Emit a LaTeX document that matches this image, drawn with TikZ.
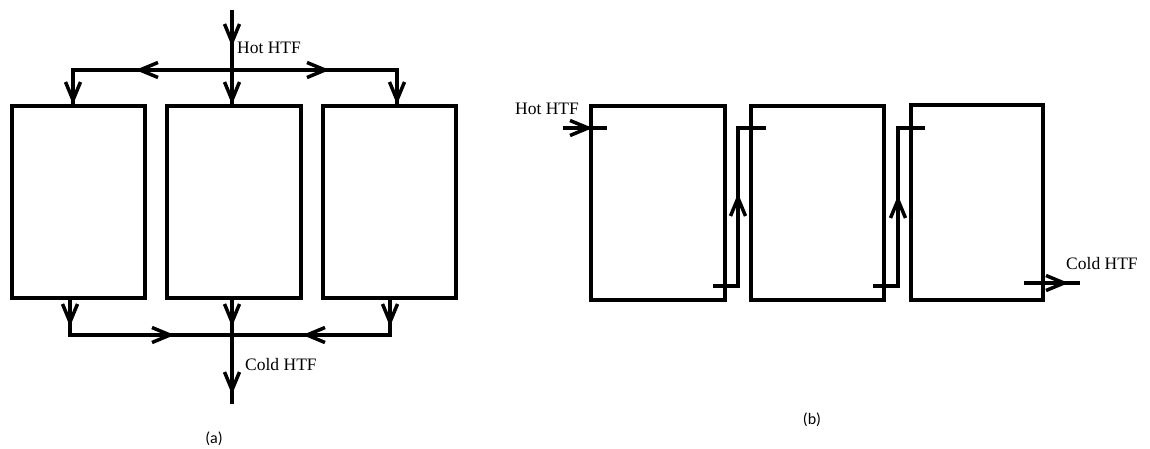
\documentclass[tikz,border=0pt]{standalone}
\usepackage{fontspec}
\setmainfont{Liberation Serif}
\newfontfamily\capfont{Carlito}
\usetikzlibrary{decorations.markings}
\tikzset{
  tank/.style={draw, line width=3.5pt, minimum width=131pt, minimum height=190pt, inner sep=0pt, outer sep=0pt},
  pipe/.style={line width=3.5pt},
  arrowat/.style={postaction={decorate, decoration={markings, mark=at position #1 with {\draw[line width=3.5pt, line join=miter, line cap=butt] (-18pt,-7.5pt) .. controls (-9pt,-4.5pt) .. (0pt,0pt) .. controls (-9pt,4.5pt) .. (-18pt,7.5pt);}}}},
  lbl/.style={font=\fontsize{17.5}{17.5}\selectfont, inner sep=0pt, anchor=west},
  captext/.style={font=\capfont\fontsize{16}{16}\selectfont, inner sep=0pt}
}
\begin{document}
\begin{tikzpicture}[x=1pt,y=-1pt]
\useasboundingbox (0,0) rectangle (1150,449);
% ---------- (a) parallel ----------
\node[tank, minimum width=133pt, minimum height=192pt] (a1) at (78.5,202) {};
\node[tank, minimum width=134pt, minimum height=192pt] (a2) at (234,202) {};
\node[tank, minimum width=133pt, minimum height=192pt] (a3) at (389.5,202) {};
\coordinate (ain) at (232,10);
\coordinate (asplit) at (232,70);
\coordinate (aL) at (73,70);
\coordinate (aR) at (397,70);
\coordinate (amerge) at (232,335);
\coordinate (aout) at (232,404);
\coordinate (bL) at (70,335);
\coordinate (bR) at (390,335);
\draw[pipe, arrowat=32pt, arrowat=90pt] (ain) -- (232,0 |- a2.north);
\draw[pipe, arrowat=92pt, arrowat=189pt] (asplit) -- (aL) -- (aL |- a1.north);
\draw[pipe, arrowat=93pt, arrowat=195pt] (asplit) -- (aR) -- (aR |- a3.north);
\draw[pipe, arrowat=24pt, arrowat=137pt] (bL |- a1.south) -- (bL) -- (amerge);
\draw[pipe, arrowat=24pt, arrowat=120pt] (bR |- a3.south) -- (bR) -- (amerge);
\draw[pipe, arrowat=24pt, arrowat=92pt] (232,0 |- a2.south) -- (aout);
\node[lbl] (hota) at (237,48) {Hot HTF};
\node[lbl] (colda) at (245,365) {Cold HTF};
\node[captext] (capa) at (214,439) {(a)};
% ---------- (b) series ----------
\node[tank, minimum width=134pt, minimum height=194pt] (b1) at (658,203) {};
\node[tank, minimum width=133pt, minimum height=194pt] (b2) at (817.5,203) {};
\node[tank, minimum width=132pt, minimum height=195pt] (b3) at (977,202.5) {};
\coordinate (bin) at (563,128);
\coordinate (bin2) at (607,128);
\coordinate (c1s) at (713,286);
\coordinate (c1a) at (738,286);
\coordinate (c1b) at (738,128);
\coordinate (c1e) at (766,128);
\coordinate (c2s) at (873,286);
\coordinate (c2a) at (898,286);
\coordinate (c2b) at (898,128);
\coordinate (c2e) at (925,128);
\coordinate (bo1) at (1024,283);
\coordinate (bo2) at (1080,283);
\draw[pipe, arrowat=25pt] (bin) -- (bin2);
\draw[pipe, arrowat=113pt] (c1s) -- (c1a) -- (c1b) -- (c1e);
\draw[pipe, arrowat=111pt] (c2s) -- (c2a) -- (c2b) -- (c2e);
\draw[pipe, arrowat=40pt] (bo1) -- (bo2);
\node[lbl] (hotb) at (515,109) {Hot HTF};
\node[lbl] (coldb) at (1066,264) {Cold HTF};
\node[captext] (capb) at (812,420) {(b)};
\end{tikzpicture}
\end{document}
